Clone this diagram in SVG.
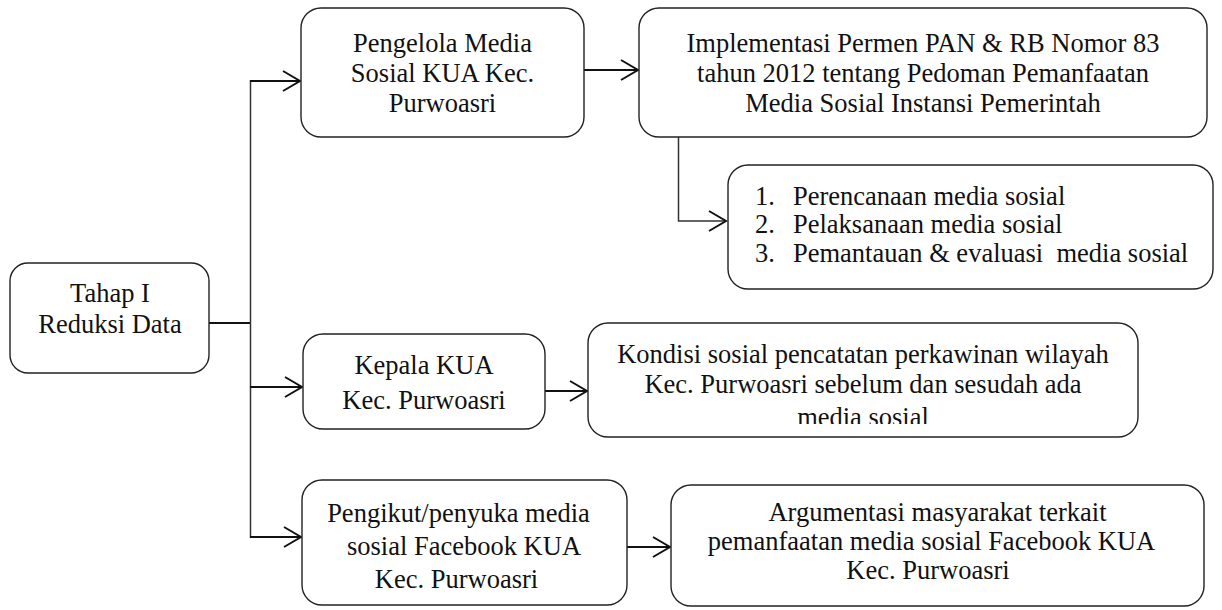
<svg xmlns="http://www.w3.org/2000/svg" width="1222" height="610" viewBox="0 0 1222 610">
<style>
.box{fill:#fff;stroke:#222;stroke-width:1.4}
.t{font-family:"Liberation Serif","Times New Roman",serif;font-size:26.5px;fill:#111}
.c{text-anchor:middle}
.ln{fill:none;stroke:#111;stroke-width:2}
.trunk{fill:none;stroke:#333;stroke-width:1.5}
</style>
<defs>
<marker id="ah" markerWidth="20" markerHeight="22" refX="18" refY="11" orient="auto" markerUnits="userSpaceOnUse">
<path d="M1,1 L18,11 L1,21" fill="none" stroke="#111" stroke-width="2"/>
</marker>
<clipPath id="clip5"><rect x="588" y="323" width="550" height="101"/></clipPath>
</defs>
<g id="connectors">
<line class="ln" x1="209" y1="323" x2="251" y2="323"/>
<line class="trunk" x1="250.5" y1="80" x2="250.5" y2="538"/>
<line class="ln" x1="250" y1="81" x2="300" y2="81" marker-end="url(#ah)"/>
<line class="ln" x1="250" y1="387" x2="302" y2="387" marker-end="url(#ah)"/>
<line class="ln" x1="250" y1="537" x2="301" y2="537" marker-end="url(#ah)"/>
<line class="ln" x1="584" y1="70" x2="638" y2="70" marker-end="url(#ah)"/>
<polyline class="trunk" points="678.5,137 678.5,221 726,221" marker-end="url(#ah)"/>
<line class="ln" x1="545" y1="391" x2="587" y2="391" marker-end="url(#ah)"/>
<line class="ln" x1="627" y1="547" x2="670" y2="547" marker-end="url(#ah)"/>
</g>
<g id="tahap">
<rect class="box" x="10" y="263" width="199" height="110" rx="18"/>
<text class="t c" x="110" y="302">Tahap I</text>
<text class="t c" x="110" y="333">Reduksi Data</text>
</g>
<g id="pengelola">
<rect class="box" x="301" y="8" width="283" height="129" rx="20"/>
<text class="t c" x="442.5" y="52">Pengelola Media</text>
<text class="t c" x="442.5" y="82">Sosial KUA Kec.</text>
<text class="t c" x="442.5" y="112">Purwoasri</text>
</g>
<g id="implementasi">
<rect class="box" x="639" y="8" width="568" height="129" rx="20"/>
<text class="t c" x="923" y="52">Implementasi Permen PAN &amp; RB Nomor 83</text>
<text class="t c" x="923" y="82">tahun 2012 tentang Pedoman Pemanfaatan</text>
<text class="t c" x="923" y="112">Media Sosial Instansi Pemerintah</text>
</g>
<g id="tahapan">
<rect class="box" x="728" y="165" width="485" height="124" rx="20"/>
<text class="t" x="755" y="205">1.</text>
<text class="t" x="793" y="205">Perencanaan media sosial</text>
<text class="t" x="755" y="233">2.</text>
<text class="t" x="793" y="233">Pelaksanaan media sosial</text>
<text class="t" x="755" y="262">3.</text>
<text class="t" x="793" y="262" xml:space="preserve">Pemantauan &amp; evaluasi  media sosial</text>
</g>
<g id="kepala">
<rect class="box" x="303" y="334" width="242" height="95" rx="20"/>
<text class="t c" x="424" y="374">Kepala KUA</text>
<text class="t c" x="424" y="409">Kec. Purwoasri</text>
</g>
<g id="kondisi">
<rect class="box" x="588" y="323" width="550" height="114" rx="20"/>
<g clip-path="url(#clip5)">
<text class="t c" x="863" y="363">Kondisi sosial pencatatan perkawinan wilayah</text>
<text class="t c" x="863" y="393">Kec. Purwoasri sebelum dan sesudah ada</text>
<text class="t c" x="863" y="426">media sosial</text>
</g>
</g>
<g id="pengikut">
<rect class="box" x="302" y="480" width="325" height="125" rx="20"/>
<text class="t c" x="458.5" y="522">Pengikut/penyuka media</text>
<text class="t c" x="464" y="555">sosial Facebook KUA</text>
<text class="t c" x="456.5" y="588">Kec. Purwoasri</text>
</g>
<g id="argumentasi">
<rect class="box" x="671" y="485" width="533" height="121" rx="20"/>
<text class="t c" x="937.5" y="521">Argumentasi masyarakat terkait</text>
<text class="t c" x="931.5" y="550">pemanfaatan media sosial Facebook KUA</text>
<text class="t c" x="928" y="579">Kec. Purwoasri</text>
</g>
</svg>
